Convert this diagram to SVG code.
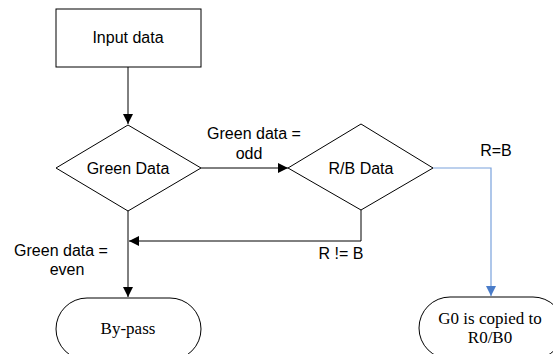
<svg xmlns="http://www.w3.org/2000/svg" width="553" height="354" viewBox="0 0 553 354">
<style>
.s{fill:#fff;stroke:#000;stroke-width:1}
.t{font-family:"Liberation Sans",Arial,sans-serif;font-size:16px;fill:#000;text-anchor:middle}
.r{font-family:"Liberation Serif","Times New Roman",serif;font-size:17px;fill:#000;text-anchor:middle}
.c{fill:none;stroke:#000;stroke-width:1}
.b{fill:none;stroke:#7aa2dc;stroke-width:1.2}
</style>
<defs>
<marker id="ah" viewBox="0 0 10 10" refX="10" refY="5" markerWidth="10" markerHeight="10" markerUnits="userSpaceOnUse" orient="auto"><path d="M0,0L10,5L0,10z" fill="#000"/></marker>
<marker id="ab" viewBox="0 0 10 10" refX="10" refY="5" markerWidth="10" markerHeight="10" markerUnits="userSpaceOnUse" orient="auto"><path d="M0,0L10,5L0,10z" fill="#4a7cc9"/></marker>
</defs>
<rect width="553" height="354" fill="#fff"/>
<g id="connectors">
<path class="c" d="M128,67V124" marker-end="url(#ah)"/>
<path class="c" d="M201,168H288" marker-end="url(#ah)"/>
<path class="c" d="M361,210V241H129" marker-end="url(#ah)"/>
<path class="c" d="M128,211V297" marker-end="url(#ah)"/>
<path class="b" d="M433,168H491V296" marker-end="url(#ab)"/>
<text class="t" x="254" y="139">Green data =</text>
<text class="t" x="249" y="159">odd</text>
<text class="t" x="496" y="156">R=B</text>
<text class="t" x="341" y="259">R != B</text>
<text class="t" x="61" y="256">Green data =</text>
<text class="t" x="67" y="275">even</text>
</g>
<g id="input"><rect class="s" x="56" y="9" width="145" height="58"/><text class="t" x="128" y="43">Input data</text></g>
<g id="green"><path class="s" d="M128,125L201,168L128,211L56,168z"/><text class="t" x="128" y="174">Green Data</text></g>
<g id="rb"><path class="s" d="M361,124L433,168L361,210L288,168z"/><text class="t" x="361" y="174">R/B Data</text></g>
<g id="bypass"><rect class="s" x="56" y="298" width="145" height="62" rx="31" ry="31"/><text class="r" x="128" y="334">By-pass</text></g>
<g id="copy"><rect class="s" x="419" y="297" width="145" height="62" rx="31" ry="31"/><text class="r" x="490" y="324">G0 is copied to</text><text class="r" x="490" y="343">R0/B0</text></g>
</svg>
